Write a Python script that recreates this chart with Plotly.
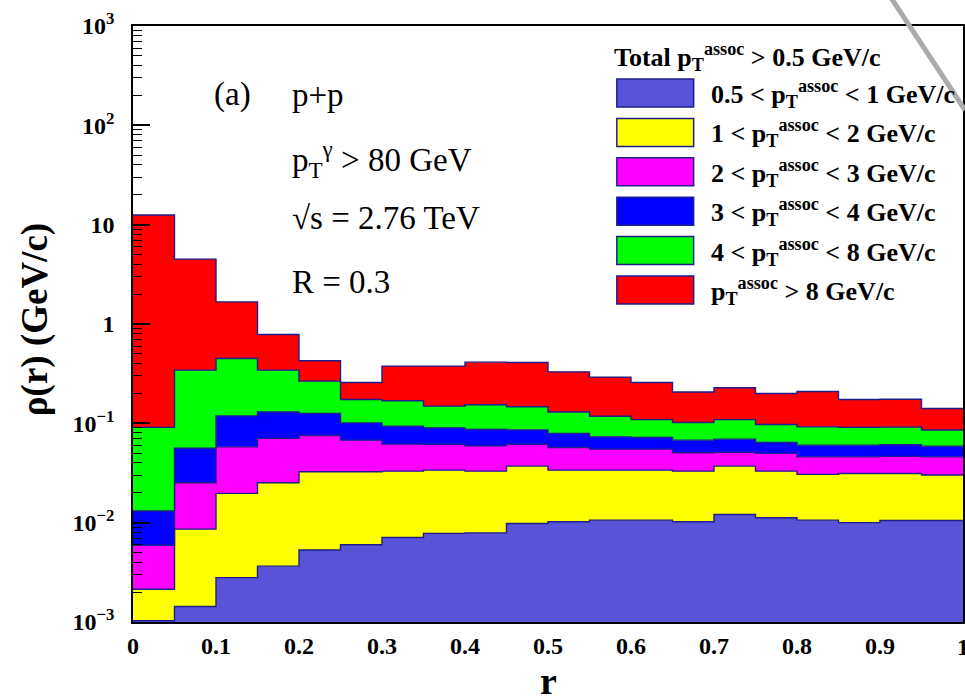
import numpy as np
import plotly.graph_objects as go

# ---------------- data ----------------
r_edges = [round(0.05 * i, 2) for i in range(21)]

pt_05_1 = [0.00103, 0.00143, 0.0028, 0.00365, 0.0053, 0.0060, 0.0071, 0.0078, 0.0079, 0.0098,
           0.0102, 0.0106, 0.0106, 0.0102, 0.0121, 0.0112, 0.0106, 0.0100, 0.0105, 0.0105]
pt_1_2 = [0.00111, 0.00717, 0.0169, 0.02155, 0.0272, 0.0265, 0.0259, 0.0260, 0.0251, 0.0273,
          0.0236, 0.0232, 0.0232, 0.0228, 0.0250, 0.0218, 0.0200, 0.0213, 0.0208, 0.0197]
pt_2_3 = [0.00379, 0.0166, 0.0383, 0.0453, 0.0430, 0.0352, 0.0288, 0.0277, 0.0263, 0.0244,
          0.0234, 0.0212, 0.0212, 0.0175, 0.0139, 0.0168, 0.0154, 0.0147, 0.0152, 0.0158]
pt_3_4 = [0.00717, 0.0310, 0.0610, 0.0595, 0.0505, 0.0333, 0.0319, 0.0285, 0.0274, 0.0245,
          0.0218, 0.0181, 0.0170, 0.0172, 0.0183, 0.0144, 0.0143, 0.0143, 0.0143, 0.0129]
pt_4_8 = [0.0779, 0.2868, 0.331, 0.213, 0.140, 0.073, 0.0753, 0.059, 0.0673, 0.061,
          0.051, 0.0449, 0.037, 0.0343, 0.0397, 0.0333, 0.0319, 0.0307, 0.0307, 0.0268]
pt_gt8 = [12.41, 4.157, 1.22, 0.442, 0.160, 0.084, 0.208, 0.228, 0.259, 0.263,
          0.200, 0.174, 0.149, 0.105, 0.119, 0.1025, 0.117, 0.083, 0.083, 0.0553]

layers = [pt_05_1, pt_1_2, pt_2_3, pt_3_4, pt_4_8, pt_gt8]
layer_labels = [
    "0.5 &lt; p<sub>T</sub><sup>assoc</sup> &lt; 1 GeV/c",
    "1 &lt; p<sub>T</sub><sup>assoc</sup> &lt; 2 GeV/c",
    "2 &lt; p<sub>T</sub><sup>assoc</sup> &lt; 3 GeV/c",
    "3 &lt; p<sub>T</sub><sup>assoc</sup> &lt; 4 GeV/c",
    "4 &lt; p<sub>T</sub><sup>assoc</sup> &lt; 8 GeV/c",
    "p<sub>T</sub><sup>assoc</sup> &gt; 8 GeV/c",
]
layer_colors = ["#5953d8", "#ffff00", "#ff00ff", "#0000ff", "#00ff00", "#ff0000"]

x_tickvals = [0, 0.1, 0.2, 0.3, 0.4, 0.5, 0.6, 0.7, 0.8, 0.9]
x_ticktext = ["0", "0.1", "0.2", "0.3", "0.4", "0.5", "0.6", "0.7", "0.8", "0.9"]
x_last_label = "1"
y_tickvals = [1e-3, 1e-2, 1e-1, 1, 10, 100, 1000]
y_ticktext = ["10<sup>−3</sup>", "10<sup>−2</sup>", "10<sup>−1</sup>", "1", "10",
              "10<sup>2</sup>", "10<sup>3</sup>"]
y_range = [-3, 3]

# ---------------- geometry helpers ----------------
W, H = 965, 697
ML, MR, MT, MB = 133, 0, 26, 75
PW, PH = W - ML - MR, H - MT - MB


def px(x):
    return (x - ML) / PW


def py(y):
    return (H - MB - y) / PH


OUTLINE = "#1e1e8c"
SERIF = "Liberation Serif, Times New Roman, Times, DejaVu Serif, serif"

fig = go.Figure()

floor = 10 ** (y_range[0] - 1)
fig.add_trace(go.Scatter(x=r_edges, y=[floor] * len(r_edges), mode="lines",
                         line=dict(width=0), line_shape="hv", showlegend=False,
                         hoverinfo="skip"))

cum = np.cumsum(np.array(layers), axis=0)
for i, col in enumerate(layer_colors):
    yv = list(cum[i]) + [cum[i][-1]]
    fig.add_trace(go.Scatter(x=r_edges, y=yv, mode="lines", line_shape="hv",
                             line=dict(color=OUTLINE, width=1.4),
                             fill="tonexty", fillcolor=col, showlegend=False,
                             hoverinfo="skip"))

minor_vals = [k * 10 ** d for d in range(-3, 3) for k in range(2, 10)]
tick_font = dict(family=SERIF, size=24, color="black", weight="bold")

fig.update_layout(
    width=W, height=H,
    margin=dict(l=ML, r=MR, t=MT, b=MB),
    paper_bgcolor="white", plot_bgcolor="white",
    hovermode=False, showlegend=False,
    xaxis=dict(range=[0, 1], tickvals=x_tickvals, ticktext=x_ticktext,
               ticks="", showgrid=False, zeroline=False,
               showline=True, linecolor="black", linewidth=1.5, mirror=True,
               tickfont=tick_font, ticklabelstandoff=1),
    yaxis=dict(type="log", range=y_range, tickvals=y_tickvals, ticktext=y_ticktext,
               ticks="inside", ticklen=17, tickwidth=1.5, tickcolor="black",
               minor=dict(tickvals=minor_vals, ticks="inside", ticklen=9,
                          tickwidth=1.2, tickcolor="black", showgrid=False),
               showgrid=False, zeroline=False,
               showline=True, linecolor="black", linewidth=1.5, mirror=True,
               tickfont=tick_font, ticklabelstandoff=12, layer="above traces"),
)

ann = []
ann.append(dict(text=x_last_label, x=1, y=py(647), xref="x", yref="paper",
                showarrow=False, xanchor="center", yanchor="middle", font=tick_font))
ann.append(dict(text="ρ(r) (GeV/c)", x=px(35), y=py(320), xref="paper", yref="paper",
                textangle=-90, showarrow=False, xanchor="center", yanchor="middle",
                font=dict(family=SERIF, size=37, color="black", weight="bold")))
ann.append(dict(text="r", x=px(549), y=py(681), xref="paper", yref="paper",
                showarrow=False, xanchor="center", yanchor="middle",
                font=dict(family=SERIF, size=38, color="black", weight="bold")))

info_font = dict(family=SERIF, size=33, color="black")
ann.append(dict(text="(a)", x=px(212), y=py(95), xref="paper", yref="paper",
                showarrow=False, xanchor="left", yanchor="middle", font=info_font))
for txt, yc in [("p+p", 95),
                ("p<sub>T</sub><sup>γ</sup> &gt; 80 GeV", 160),
                ("√s = 2.76 TeV", 218),
                ("R = 0.3", 282)]:
    ann.append(dict(text=txt, x=px(290), y=py(yc), xref="paper", yref="paper",
                    showarrow=False, xanchor="left", yanchor="middle", font=info_font))

leg_font = dict(family=SERIF, size=26, color="black", weight="bold")
ann.append(dict(text="Total p<sub>T</sub><sup>assoc</sup> &gt; 0.5 GeV/c", x=px(613), y=py(57),
                xref="paper", yref="paper", showarrow=False, xanchor="left",
                yanchor="middle", font=leg_font))
shapes = []
for i, (lab, col) in enumerate(zip(layer_labels, layer_colors)):
    yc = 93 + i * 39.4
    shapes.append(dict(type="rect", xref="paper", yref="paper",
                       x0=px(618), x1=px(695), y0=py(yc - 14), y1=py(yc + 14),
                       fillcolor=col, line=dict(color=OUTLINE, width=1.5)))
    ann.append(dict(text=lab, x=px(710), y=py(yc + 1), xref="paper", yref="paper",
                    showarrow=False, xanchor="left", yanchor="middle", font=leg_font))

shapes.append(dict(type="line", xref="paper", yref="paper",
                   x0=px(893), y0=py(-2), x1=px(967), y1=py(110),
                   line=dict(color="#ababab", width=5)))

fig.update_layout(annotations=ann, shapes=shapes)
fig.write_html("out.html")
